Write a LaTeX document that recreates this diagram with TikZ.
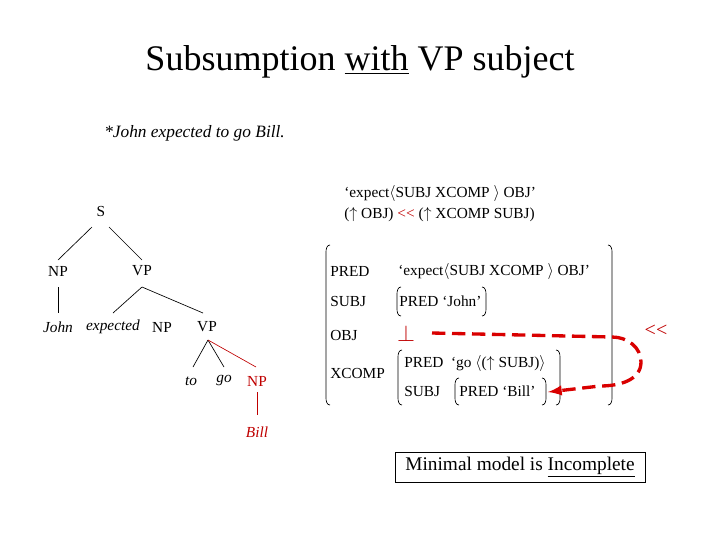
\documentclass[tikz,border=0pt]{standalone}
\usepackage{fontspec}
\setmainfont{Liberation Serif}
\begin{document}
\begin{tikzpicture}[x=0.75pt,y=-0.75pt,
  t/.style={font=\fontsize{11.5}{13}\selectfont,inner sep=0pt},
  tl/.style={t,anchor=west},
  rd/.style={red!75!black},
  ln/.style={line width=0.5pt}]
\useasboundingbox (0,0) rectangle (720,540);
\newcommand{\lbr}[3]{\draw[ln] (#1+4,#2) to[out=180,in=90] (#1,#2+7) -- (#1,#3-7) to[out=-90,in=180] (#1+4,#3);}
\newcommand{\rbr}[3]{\draw[ln] (#1-4,#2) to[out=0,in=90] (#1,#2+7) -- (#1,#3-7) to[out=-90,in=0] (#1-4,#3);}
\node[font=\fontsize{27}{32}\selectfont] (title) at (360,62) {Subsumption \underline{with} VP subject};
\node[tl,font=\fontsize{13}{15}\selectfont\itshape] (ex) at (104,133) {*John expected to go Bill.};
% tree
\node[t] (S) at (101,211) {S};
\node[t] (NP1) at (58,271) {NP};
\node[t] (VP1) at (142,271) {VP};
\node[t,font=\fontsize{11.5}{13}\selectfont\itshape] (john) at (58,327) {John};
\node[t,font=\fontsize{11.5}{13}\selectfont\itshape] (exp) at (113,327) {expected};
\node[t] (NP2) at (162,327) {NP};
\node[t] (VP2) at (207,327) {VP};
\node[t,font=\fontsize{11.5}{13}\selectfont\itshape] (to) at (191,381) {to};
\node[t,font=\fontsize{11.5}{13}\selectfont\itshape] (go) at (224,381) {go};
\node[t,rd] (NP3) at (257,381) {NP};
\node[t,rd,font=\fontsize{11.5}{13}\selectfont\itshape] (bill) at (257,432) {Bill};
\draw[ln] (92,227) -- (58,260); \draw[ln] (109,227) -- (142,260);
\draw[ln] (58,287) -- (58,313);
\draw[ln] (142,287) -- (113,313); \draw[ln] (142,287) -- (203,313);
\draw[ln] (208,340) -- (193,367); \draw[ln] (208,340) -- (224,367);
\draw[ln,rd] (208,340) -- (256,367);
\draw[ln,rd] (257,392) -- (257,415);
% header
\node[tl] (h1) at (344,193) {`expect$\langle$SUBJ XCOMP $\rangle$ OBJ'};
\node[tl] (h2) at (344,215) {($\uparrow$ OBJ) \textcolor{red!75!black}{{<}{<}} ($\uparrow$ XCOMP SUBJ)};
% f-structure
\lbr{326}{245}{405} \rbr{612}{245}{405}
\node[tl] (pred) at (330,271) {PRED};
\node[tl] (predv) at (398,271) {`expect$\langle$SUBJ XCOMP $\rangle$ OBJ'};
\node[tl] (subj) at (330,301) {SUBJ};
\lbr{397}{287}{316} \rbr{486}{287}{316}
\node[tl] (john2) at (399,301) {PRED `John'};
\node[tl] (obj) at (330,335) {OBJ};
\node[rd,font=\fontsize{17}{19}\selectfont,inner sep=0pt] (bot) at (406,333) {$\perp$};
\node[tl] (xc) at (330,373) {XCOMP};
\lbr{398}{350}{405} \rbr{560}{350}{405}
\node[tl] (gop) at (404,363) {PRED~~`go $\langle$($\uparrow$ SUBJ)$\rangle$};
\node[tl] (xs) at (404,391) {SUBJ};
\lbr{455}{378}{405} \rbr{546}{378}{405}
\node[tl] (bp) at (459,391) {PRED `Bill'};
\node[rd,font=\fontsize{15}{17}\selectfont,inner sep=0pt] (ll) at (656,331) {{<}{<}};
\coordinate (ds) at (432,333);
\draw[red!85!black,line width=2.5pt,dash pattern=on 10pt off 5pt,-latex]
  (ds) -- (612,337) to[out=0,in=90] (641,362) to[out=-90,in=0] (600,386) -- (548,392);
% box
\node[draw,ln,font=\fontsize{14.5}{16}\selectfont,minimum width=250*0.75pt,minimum height=30*0.75pt] (box) at (520,467) {Minimal model is \underline{Incomplete}};
\end{tikzpicture}
\end{document}
